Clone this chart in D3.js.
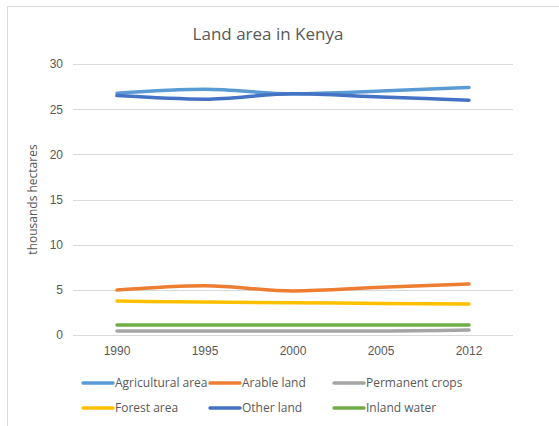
<!DOCTYPE html>
<html>
<head>
<meta charset="utf-8">
<style>
  body { margin: 0; background: #fff; }
  svg { display: block; font-family: "Open Sans", "Noto Sans", sans-serif; }
  .grid line { stroke: #d9d9d9; }
  .axis text { fill: #595959; font-size: 12px; }
</style>
</head>
<body>
<svg width="559" height="426"></svg>
<script src="https://cdn.jsdelivr.net/npm/d3@7"></script>
<script>

var years = ["1990", "1995", "2000", "2005", "2012"];
var yTicks = [0, 5, 10, 15, 20, 25, 30];

var agricultural = [26.75, 27.2, 26.7, 27.0, 27.4];
var arable = [4.98, 5.45, 4.87, 5.28, 5.65];
var permanent = [0.45, 0.45, 0.45, 0.45, 0.55];
var forest = [3.76, 3.65, 3.58, 3.5, 3.43];
var other = [26.5, 26.1, 26.7, 26.35, 26.0];
var inland = [1.1, 1.1, 1.1, 1.1, 1.1];

var series = [
  { name: "Agricultural area", values: agricultural, color: "#5b9bd5" },
  { name: "Arable land", values: arable, color: "#ed7d31" },
  { name: "Permanent crops", values: permanent, color: "#a5a5a5" },
  { name: "Forest area", values: forest, color: "#ffc000" },
  { name: "Other land", values: other, color: "#4472c4" },
  { name: "Inland water", values: inland, color: "#70ad47" }
];

var svg = d3.select("svg");

// chart frame
svg.append("rect")
  .attr("x", 7.5).attr("y", 6.5)
  .attr("width", 600).attr("height", 500)
  .attr("fill", "none")
  .attr("stroke", "#d9d9d9");

svg.append("text")
  .attr("x", 268).attr("y", 40)
  .attr("text-anchor", "middle")
  .attr("fill", "#595959")
  .style("font-size", "17px")
  .text("Land area in Kenya");

var plotL = 73, plotR = 513, plotT = 64, plotB = 335;

var x = d3.scaleBand().domain(years).range([plotL, plotR]);
var y = d3.scaleLinear().domain([0, 30]).range([plotB, plotT]);

// gridlines
svg.append("g").attr("class", "grid")
  .selectAll("line").data(yTicks).join("line")
  .attr("x1", plotL).attr("x2", plotR)
  .attr("y1", d => Math.round(y(d)) + 0.5).attr("y2", d => Math.round(y(d)) + 0.5);

var yAxis = svg.append("g").attr("class", "axis")
  .attr("transform", "translate(" + (plotL - 4) + ",0)")
  .call(d3.axisLeft(y).tickValues(yTicks).tickSize(0).tickPadding(6));
yAxis.select(".domain").remove();

var xAxis = svg.append("g").attr("class", "axis")
  .attr("transform", "translate(0," + plotB + ")")
  .call(d3.axisBottom(x).tickSize(0).tickPadding(11));
xAxis.select(".domain").remove();

svg.append("text")
  .attr("transform", "translate(37," + ((plotT + plotB) / 2) + ") rotate(-90)")
  .attr("text-anchor", "middle")
  .attr("fill", "#595959")
  .style("font-size", "12px")
  .text("thousands hectares");

var line = d3.line()
  .x((d, i) => x(years[i]) + x.bandwidth() / 2)
  .y(d => y(d))
  .curve(d3.curveMonotoneX);

svg.append("g").selectAll("path").data(series).join("path")
  .attr("d", d => line(d.values))
  .attr("fill", "none")
  .attr("stroke", d => d.color)
  .attr("stroke-width", 3.5)
  .attr("stroke-linecap", "round")
  .attr("stroke-linejoin", "round");

// legend
var colX = [83, 210, 334];
var rowY = [383, 408];
var legend = svg.append("g").selectAll("g").data(series).join("g")
  .attr("transform", (d, i) => "translate(" + colX[i % 3] + "," + rowY[Math.floor(i / 3)] + ")");
legend.append("line")
  .attr("x1", 0).attr("x2", 30)
  .attr("stroke", d => d.color)
  .attr("stroke-width", 3.5)
  .attr("stroke-linecap", "round");
legend.append("text")
  .attr("x", 32).attr("dy", "0.35em")
  .attr("fill", "#595959")
  .style("font-size", "12px")
  .text(d => d.name);

</script>
</body>
</html>
